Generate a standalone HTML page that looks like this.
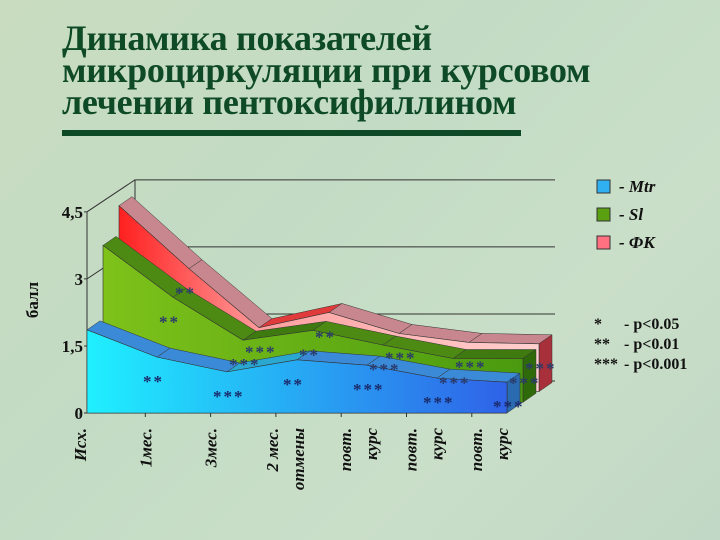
<!DOCTYPE html>
<html><head><meta charset="utf-8">
<style>
html,body{margin:0;padding:0;}
body{width:720px;height:540px;overflow:hidden;background:linear-gradient(135deg,#c9dcc0 0%,#c3dbc4 40%,#cadfc8 70%,#c1d8c6 100%);font-family:"Liberation Serif",serif;position:relative;}
.t{position:absolute;left:62px;color:#0e4a26;font-weight:bold;font-size:36px;line-height:32px;white-space:nowrap;letter-spacing:-0.3px}
</style></head>
<body>
<div class="t" style="top:22px">Динамика показателей<br>микроциркуляции при курсовом<br>лечении пентоксифиллином</div>
<div style="position:absolute;left:62px;top:130px;width:459px;height:6px;background:#0e4a26"></div>
<svg id="chart" width="720" height="540" style="position:absolute;left:0;top:0">
<defs>
<linearGradient id="gM" x1="0" x2="1" y1="0" y2="0"><stop offset="0" stop-color="#1ff0ff"/><stop offset="1" stop-color="#2f62e8"/></linearGradient>
<linearGradient id="gS" x1="0" x2="1"><stop offset="0" stop-color="#7ec21a"/><stop offset="1" stop-color="#4a9a10"/></linearGradient>
<linearGradient id="gF" x1="0" x2="1"><stop offset="0" stop-color="#ff2020"/><stop offset="0.35" stop-color="#ffa0a0"/><stop offset="1" stop-color="#ffd0d0"/></linearGradient>
</defs>
<g id="axes"></g><g id="series"></g><g id="labels"></g>
</svg>
<script>
const categories=["Исх.","1мес.","3мес.","2 мес.|отмены","повт.|курс","повт.|курс","повт.|курс"];
const mtrValues=[1.86,1.25,0.92,1.19,1.07,0.78,0.69];
const slValues=[3.51,2.35,1.39,1.61,1.28,0.98,0.98];
const fkValues=[4.16,2.75,1.43,1.77,1.30,1.10,1.07];
const yTicks=[0,1.5,3,4.5];
const yTickLabels=["0","1,5","3","4,5"];
const mtrSig=["","**","***","**","***","***","***"];
const slSig=["","**","***","**","***","***","***"];
const fkSig=["","**","***","**","***","***","***"];

const NS="http://www.w3.org/2000/svg";
const X0=87,STEP=70,Y0=413,PX=44.7,DX=16,DY=-10.7,TX=13,TY=-9;
function xs(i,d){return X0+i*STEP+d*DX;}
function ys(v,d){return Y0+d*DY-v*PX;}
function mk(tag,attrs,parent){const e=document.createElementNS(NS,tag);for(const k in attrs)e.setAttribute(k,attrs[k]);parent.appendChild(e);return e;}
const axes=document.getElementById('axes'),ser=document.getElementById('series'),lab=document.getElementById('labels');
let p=mk('line',{x1:X0,y1:Y0,x2:X0,y2:ys(4.5,0),stroke:'#333','stroke-width':1},axes);

let bw=mk('line',{x1:X0+48,y1:Y0-32,x2:X0+48,y2:ys(4.5,0)-32,stroke:'#333','stroke-width':1},axes);

yTicks.forEach((v,i)=>{
 const y=ys(v,0);
 const g=mk('polyline',{points:`${X0-3},${y} ${X0},${y} ${X0+48},${y-32} 555,${y-32}`,fill:'none',stroke:'#333','stroke-width':1},axes);
 
 const t=mk('text',{x:X0-4,y:y+6,'text-anchor':'end','font-size':17,'font-weight':'bold','font-family':'Liberation Serif, serif',fill:'#111'},axes);
 t.textContent=yTickLabels[i];
 
});
mk('line',{x1:X0,y1:Y0,x2:507,y2:Y0,stroke:'#333'},axes);
categories.forEach((c,i)=>{
 const x=80+i*65.3;
 const tk=mk('line',{x1:x,y1:Y0,x2:x,y2:Y0+4,stroke:'#333'},axes);
 
 const parts=c.split('|');
 parts.forEach((s,j)=>{
  const lx=x+6+(parts.length>1?(j*26-4+(i>3?8:0)):0);
  const t=mk('text',{x:0,y:0,transform:`translate(${lx},${Y0+15}) rotate(-90)`,'text-anchor':'end','font-size':17,'font-weight':'bold','font-style':'italic','font-family':'Liberation Serif, serif',fill:'#111'},lab);
  t.textContent=s;
  
 });
});
const yt=mk('text',{x:0,y:0,transform:'translate(38,300) rotate(-90)','text-anchor':'middle','font-size':17,'font-weight':'bold','font-family':'Liberation Serif, serif',fill:'#111'},lab);
yt.textContent='балл';

function drawSeries(vals,d,grad,top1,top2,side,name,sig,sigColor){
 const g=mk('g',{},ser);
 for(let i=0;i<vals.length-1;i++){
  const x1=xs(i,d),y1=ys(vals[i],d),x2=xs(i+1,d),y2=ys(vals[i+1],d);
  const f=mk('polygon',{points:`${x1},${y1} ${x2},${y2} ${x2+TX},${y2+TY} ${x1+TX},${y1+TY}`,fill:(vals[i+1]<vals[i]?top1:top2),stroke:'#333','stroke-width':0.5},g);
  
 }
 const n=vals.length-1,xe=xs(n,d),ye=ys(vals[n],d),yb=Y0+d*DY;
 const s=mk('polygon',{points:`${xe},${ye} ${xe+TX},${ye+TY} ${xe+TX},${yb+TY} ${xe},${yb}`,fill:side,stroke:'#333','stroke-width':0.5},g);
 
 let pts=`${xs(0,d)},${yb} `+vals.map((v,i)=>`${xs(i,d)},${ys(v,d)}`).join(' ')+` ${xe},${yb}`;
 const a=mk('polygon',{points:pts,fill:`url(#${grad})`,stroke:'#333','stroke-width':0.6},g);
 
 sig.forEach((sg,i)=>{ if(!sg)return;
  const t=mk('text',{x:xs(i,d)-14,y:ys(vals[i],d)+30,'font-size':17,'font-weight':'bold','font-family':'Liberation Serif, serif',fill:sigColor,'letter-spacing':2},lab);
  t.textContent=sg;
 });
}
drawSeries(fkValues,2,'gF','#c8868e','#e03a3a','#a8303a','fk',fkSig,'#2a3a6a');
drawSeries(slValues,1,'gS','#4c8a14','#3e7a10','#2e6a0a','sl',slSig,'#2a3a6a');
drawSeries(mtrValues,0,'gM','#3a8ad8','#2aa8d0','#2a6ab0','mtr',mtrSig,'#1a2a6a');

const leg=[["#30b0f0","- Mtr"],["#5aa010","- Sl"],["#ff7080","- ФК"]];
leg.forEach((l,i)=>{
 const y=192+i*28;
 const r=mk('rect',{x:597,y:y-12,width:13,height:13,fill:l[0],stroke:'#333','stroke-width':1},lab);
 
 const t=mk('text',{x:619,y:y,'font-size':17,'font-weight':'bold','font-style':'italic','font-family':'Liberation Serif, serif',fill:'#111'},lab);
 t.textContent=l[1];
});
const notes=[["*","- p<0.05"],["**","- p<0.01"],["***","- p<0.001"]];
notes.forEach((n,i)=>{
 const y=329+i*20;
 const a=mk('text',{x:594,y:y,'font-size':16,'font-weight':'bold','font-family':'Liberation Serif, serif',fill:'#111'},lab);
 a.textContent=n[0];
 const b=mk('text',{x:624,y:y,'font-size':16,'font-weight':'bold','font-family':'Liberation Serif, serif',fill:'#111'},lab);
 b.textContent=n[1];
});
</script>
</body></html>
